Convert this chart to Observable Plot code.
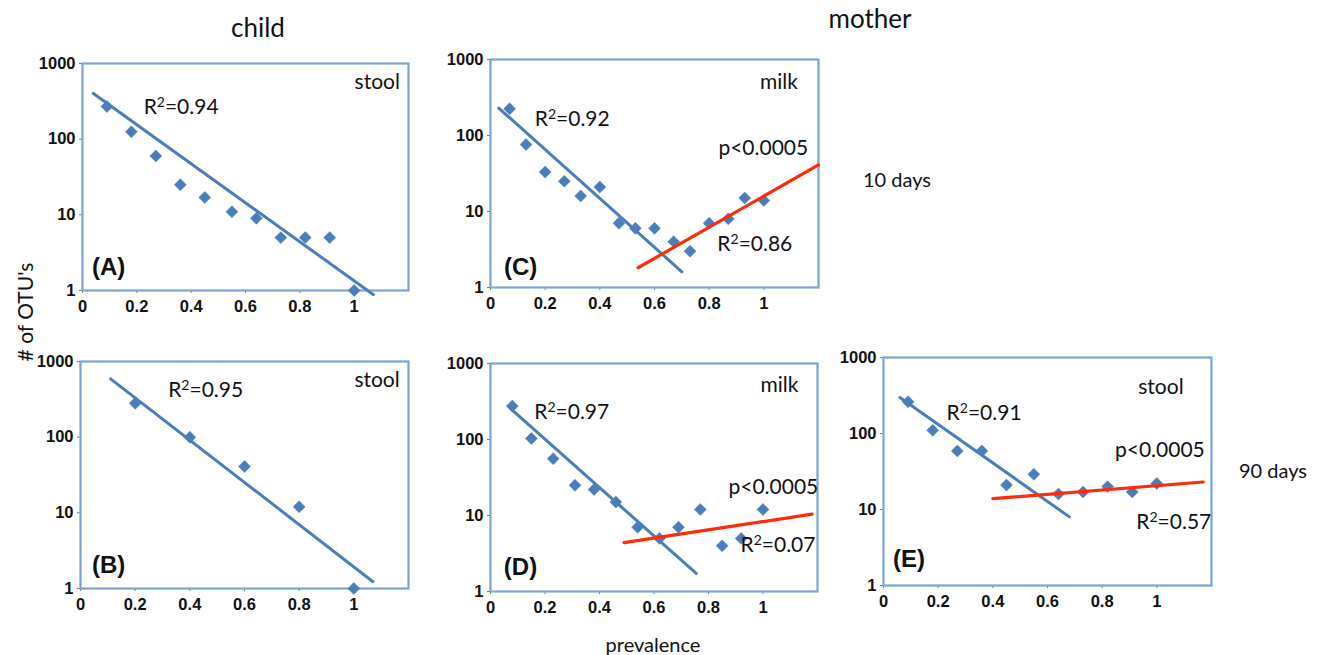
<!DOCTYPE html>
<html><head><meta charset="utf-8">
<script src="https://cdn.jsdelivr.net/npm/d3@7"></script>
<script src="https://cdn.jsdelivr.net/npm/@observablehq/plot@0.6"></script>
<style>
body{margin:0;background:#fff;}
#wrap{position:relative;width:1322px;height:655px;overflow:hidden;font-family:Lato,sans-serif;background:#fff;}
#wrap svg{position:absolute;overflow:visible;}
.lbl{position:absolute;white-space:nowrap;color:#111;transform:translate(-50%,-50%);line-height:1;}
</style></head><body><div id="wrap"></div>
<script>
// ---- data ----
const xTicks = [0, 0.2, 0.4, 0.6, 0.8, 1];
const yTicks = [1, 10, 100, 1000];

const aPrev = [0.09, 0.18, 0.27, 0.36, 0.45, 0.55, 0.64, 0.73, 0.82, 0.91, 1.0];
const aOtus = [270, 125, 60, 25, 17, 11, 9, 5, 5, 5, 1];
const aFitX = [0.04, 1.07], aFitY = [402, 0.885];

const bPrev = [0.2, 0.4, 0.6, 0.8, 1.0];
const bOtus = [280, 100, 41, 12, 1];
const bFitX = [0.11, 1.07], bFitY = [590, 1.23];

const cPrev = [0.07, 0.13, 0.2, 0.27, 0.33, 0.4, 0.47, 0.53, 0.6, 0.67, 0.73, 0.8, 0.87, 0.93, 1.0];
const cOtus = [225, 76, 33, 25, 16, 21, 7, 6, 6, 4, 3, 7, 8, 15, 14];
const cFitX = [0.03, 0.70], cFitY = [230, 1.61];
const cRedX = [0.54, 1.20], cRedY = [1.82, 41];

const dPrev = [0.08, 0.15, 0.23, 0.31, 0.38, 0.46, 0.54, 0.62, 0.69, 0.77, 0.85, 0.92, 1.0];
const dOtus = [275, 103, 56, 25, 22, 15, 7, 5, 7, 12, 4, 5, 12];
const dFitX = [0.08, 0.755], dFitY = [243, 1.73];
const dRedX = [0.49, 1.18], dRedY = [4.4, 10.4];

const ePrev = [0.09, 0.18, 0.27, 0.36, 0.45, 0.55, 0.64, 0.73, 0.82, 0.91, 1.0];
const eOtus = [261, 110, 59, 59, 21, 29, 16, 17, 20, 17, 22];
const eFitX = [0.06, 0.68], eFitY = [297, 8.0];
const eRedX = [0.40, 1.17], eRedY = [13.9, 23];

// ---- styles / layout ----
const BLUE = "#4a7ebb", RED = "#ff2a0a", FRAME = "#7ba3d5";
const mL = 52, mT = 6, mR = 6, mB = 30;
const TICKFONT = "Liberation Sans, Arial, sans-serif";

const panels = [
  {left: 82, top: 63, w: 326, h: 227, prev: aPrev, otus: aOtus, fitX: aFitX, fitY: aFitY,
   notes: [{t: "stool", x: 1.085, y: 561}, {t: "R²=0.94", x: 0.363, y: 262}], tag: {t: "(A)", x: 0.096, y: 2.02}},
  {left: 80, top: 361, w: 328, h: 227, prev: bPrev, otus: bOtus, fitX: bFitX, fitY: bFitY,
   notes: [{t: "stool", x: 1.085, y: 561}, {t: "R²=0.95", x: 0.458, y: 414}], tag: {t: "(B)", x: 0.103, y: 2.02}},
  {left: 490, top: 59, w: 328, h: 228, prev: cPrev, otus: cOtus, fitX: cFitX, fitY: cFitY, redX: cRedX, redY: cRedY,
   notes: [{t: "milk", x: 1.055, y: 501}, {t: "R²=0.92", x: 0.299, y: 166}, {t: "p<0.0005", x: 0.998, y: 67}, {t: "R²=0.86", x: 0.967, y: 3.68}], tag: {t: "(C)", x: 0.110, y: 1.85}},
  {left: 490, top: 363, w: 327, h: 228, prev: dPrev, otus: dOtus, fitX: dFitX, fitY: dFitY, redX: dRedX, redY: dRedY,
   notes: [{t: "milk", x: 1.06, y: 514}, {t: "R²=0.97", x: 0.298, y: 229}, {t: "p<0.0005", x: 1.038, y: 23.5}, {t: "R²=0.07", x: 1.055, y: 4.03}], tag: {t: "(D)", x: 0.110, y: 2.07}},
  {left: 883, top: 357, w: 328, h: 228, prev: ePrev, otus: eOtus, fitX: eFitX, fitY: eFitY, redX: eRedX, redY: eRedY,
   notes: [{t: "stool", x: 1.015, y: 407}, {t: "R²=0.91", x: 0.368, y: 182}, {t: "p<0.0005", x: 1.011, y: 59.7}, {t: "R²=0.57", x: 1.062, y: 6.8}], tag: {t: "(E)", x: 0.093, y: 2.24}}
];

const wrap = document.getElementById("wrap");

for (const p of panels) {
  const pts = p.prev.map((x, i) => ({x, y: p.otus[i]}));
  const fit = p.fitX.map((x, i) => ({x, y: p.fitY[i]}));
  const marks = [
    Plot.axisX({ticks: xTicks, tickFormat: d => String(d), tickSize: 3, tickPadding: 7, label: null,
      fontSize: 16.5, fontWeight: "bold", fontFamily: TICKFONT, stroke: "#777"}),
    Plot.axisY({ticks: yTicks, tickFormat: d => String(d), tickSize: 3, tickPadding: 4, label: null,
      fontSize: 16.5, fontWeight: "bold", fontFamily: TICKFONT, stroke: "#777"}),
    Plot.frame({stroke: FRAME, strokeWidth: 2.2}),
    Plot.dot(pts, {x: "x", y: "y", symbol: "diamond2", r: 5.4, fill: BLUE, stroke: BLUE, strokeWidth: 0.5}),
    Plot.line(fit, {x: "x", y: "y", stroke: BLUE, strokeWidth: 3})
  ];
  if (p.redX) {
    const red = p.redX.map((x, i) => ({x, y: p.redY[i]}));
    marks.push(Plot.line(red, {x: "x", y: "y", stroke: RED, strokeWidth: 3.2}));
  }
  marks.push(Plot.text(p.notes, {x: "x", y: "y", text: "t", fontSize: 21, fontFamily: "Lato, sans-serif", fill: "#111", textAnchor: "middle", lineAnchor: "middle"}));
  marks.push(Plot.text([p.tag], {x: "x", y: "y", text: "t", fontSize: 24, fontWeight: "bold", fontFamily: TICKFONT, fill: "#111", textAnchor: "middle", lineAnchor: "middle"}));

  const svg = Plot.plot({
    width: mL + p.w + mR,
    height: mT + p.h + mB,
    marginLeft: mL, marginTop: mT, marginRight: mR, marginBottom: mB,
    style: {background: "transparent", color: "#111", overflow: "visible"},
    x: {domain: [0, 1.2], axis: null},
    y: {type: "log", domain: [1, 1000], axis: null},
    marks
  });
  // render the "²" of R² as a proper superscript
  svg.querySelectorAll("text").forEach(t => {
    const s = t.textContent;
    if (!s.includes("²")) return;
    const [a, b] = s.split("²");
    t.textContent = "";
    const t1 = document.createElementNS("http://www.w3.org/2000/svg", "tspan");
    t1.textContent = a;
    const t2 = document.createElementNS("http://www.w3.org/2000/svg", "tspan");
    t2.textContent = "2";
    t2.setAttribute("font-size", "14");
    t2.setAttribute("dy", "-7");
    const t3 = document.createElementNS("http://www.w3.org/2000/svg", "tspan");
    t3.textContent = b;
    t3.setAttribute("dy", "7");
    t.append(t1, t2, t3);
  });
  svg.style.left = (p.left - mL) + "px";
  svg.style.top = (p.top - mT) + "px";
  wrap.appendChild(svg);
}

// outer labels
const outer = [
  {t: "child", x: 258, y: 27, s: 26},
  {t: "mother", x: 870, y: 18, s: 26},
  {t: "prevalence", x: 653, y: 644, s: 20},
  {t: "10 days", x: 897, y: 179, s: 20},
  {t: "90 days", x: 1273, y: 470, s: 20}
];
for (const o of outer) {
  const d = document.createElement("div");
  d.className = "lbl";
  d.textContent = o.t;
  d.style.left = o.x + "px";
  d.style.top = o.y + "px";
  d.style.fontSize = o.s + "px";
  wrap.appendChild(d);
}
const yl = document.createElement("div");
yl.className = "lbl";
yl.textContent = "# of OTU's";
yl.style.left = "24px";
yl.style.top = "312px";
yl.style.fontSize = "21px";
yl.style.transform = "translate(-50%,-50%) rotate(-90deg)";
wrap.appendChild(yl);
</script></body></html>
